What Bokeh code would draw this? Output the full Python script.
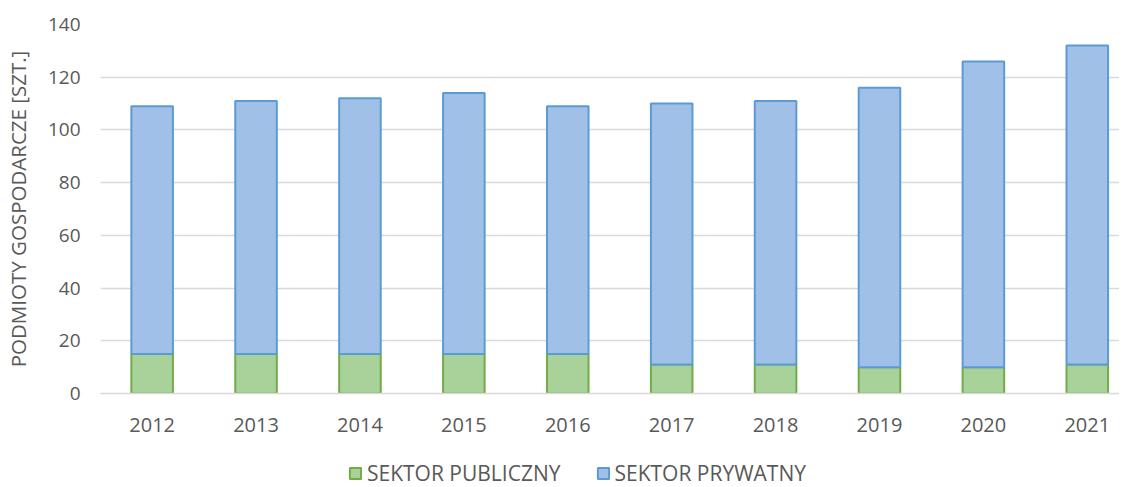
from bokeh.plotting import figure
from bokeh.layouts import column
from bokeh.models import Range1d, FixedTicker, Legend, LegendItem
from bokeh.embed import file_html
from bokeh.resources import INLINE

years = [2012, 2013, 2014, 2015, 2016, 2017, 2018, 2019, 2020, 2021]
public = [15, 15, 15, 15, 15, 11, 11, 10, 10, 11]
private = [94, 96, 97, 99, 94, 99, 100, 106, 116, 121]
y_ticks = [0, 20, 40, 60, 80, 100, 120, 140]
series = ["SEKTOR PUBLICZNY", "SEKTOR PRYWATNY"]

totals = [a + b for a, b in zip(public, private)]
FONT = "Open Sans"
GRAY = "#595959"
PUB_FILL, PUB_LINE = "#a9d19a", "#70ad47"
PRI_FILL, PRI_LINE = "#a1c0e7", "#5b9bd5"

p = figure(width=1119, height=443, output_backend="svg", toolbar_location=None,
           x_range=Range1d(2011.503, 2021.31), y_range=Range1d(0, 140),
           min_border_left=92, min_border_right=0, min_border_top=24,
           min_border_bottom=50, outline_line_color=None)

p.vbar(x=years, top=public, bottom=0, width=0.40,
       fill_color=PUB_FILL, line_color=PUB_LINE, line_width=2)
p.vbar(x=years, top=totals, bottom=public, width=0.40,
       fill_color=PRI_FILL, line_color=PRI_LINE, line_width=2)

p.xgrid.visible = False
p.ygrid.grid_line_color = "#d9d9d9"
p.ygrid.grid_line_width = 1.5
p.ygrid.ticker = FixedTicker(ticks=y_ticks)

p.yaxis.ticker = FixedTicker(ticks=y_ticks)
p.yaxis.axis_line_color = None
p.yaxis.major_tick_line_color = None
p.yaxis.minor_tick_line_color = None
p.yaxis.major_label_text_font = FONT
p.yaxis.major_label_text_font_size = "19px"
p.yaxis.major_label_text_color = GRAY
p.yaxis.major_label_standoff = 14
p.yaxis.axis_label = "PODMIOTY GOSPODARCZE [SZT.]"
p.yaxis.axis_label_text_font = FONT
p.yaxis.axis_label_text_font_size = "20.5px"
p.yaxis.axis_label_text_font_style = "normal"
p.yaxis.axis_label_text_color = GRAY
p.yaxis.axis_label_standoff = 13

p.xaxis.ticker = FixedTicker(ticks=years)
p.xaxis.axis_line_color = "#d9d9d9"
p.xaxis.axis_line_width = 1.5
p.xaxis.major_tick_line_color = None
p.xaxis.minor_tick_line_color = None
p.xaxis.major_label_text_font = FONT
p.xaxis.major_label_text_font_size = "20px"
p.xaxis.major_label_text_color = GRAY
p.xaxis.major_label_standoff = 18

# legend strip below the chart (hidden proxy renderers supply the swatches)
lg = figure(width=1119, height=44, output_backend="svg", toolbar_location=None,
            x_range=Range1d(0, 1), y_range=Range1d(0, 1),
            min_border=0, outline_line_color=None)
lg.axis.visible = False
lg.grid.visible = False
d_pub = lg.vbar(x=[years[0]], top=[public[0]], width=0.1, visible=False,
                fill_color=PUB_FILL, line_color=PUB_LINE, line_width=2)
d_pri = lg.vbar(x=[years[0]], top=[totals[0]], width=0.1, visible=False,
                fill_color=PRI_FILL, line_color=PRI_LINE, line_width=2)
legend = Legend(items=[LegendItem(label=series[0], renderers=[d_pub]),
                       LegendItem(label=series[1], renderers=[d_pri])],
                orientation="horizontal", location=(248, 0),
                label_text_font=FONT, label_text_font_size="21px",
                label_text_color=GRAY, border_line_color=None,
                background_fill_alpha=0, inactive_fill_alpha=0,
                glyph_width=14, glyph_height=14, label_standoff=5,
                spacing=35, padding=0, margin=0)
lg.add_layout(legend, "center")

layout = column(p, lg, spacing=0)
open("out.html", "w").write(file_html(layout, INLINE))
